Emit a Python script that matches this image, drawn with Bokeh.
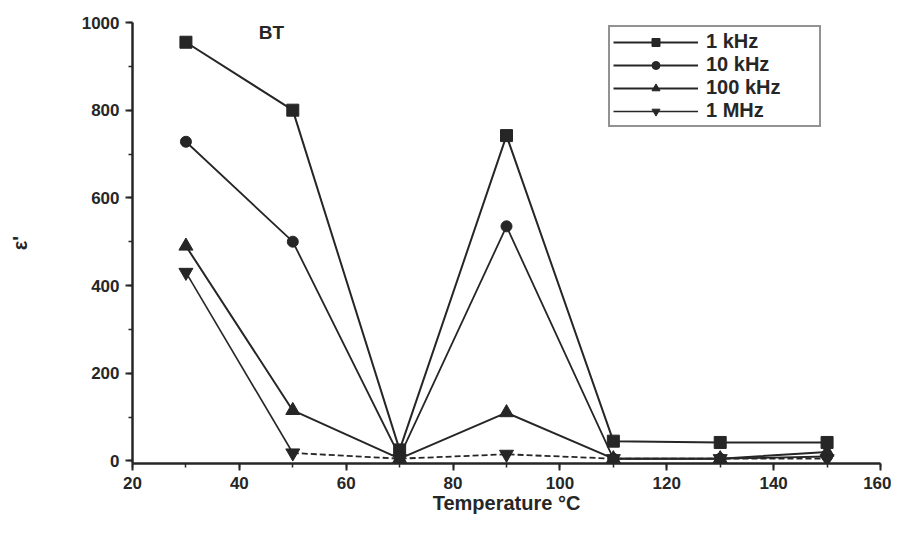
from bokeh.plotting import figure
from bokeh.models import Range1d, Legend, LegendItem, SingleIntervalTicker
from bokeh.core.properties import value
from bokeh.embed import file_html
from bokeh.resources import INLINE

temp = [30, 50, 70, 90, 110, 130, 150]
eps_1k = [955, 800, 25, 742, 45, 42, 42]
eps_10k = [728, 500, 10, 535, 5, 5, 10]
eps_100k = [490, 115, 5, 110, 5, 5, 20]
eps_1M = [430, 18, 5, 15, 5, 5, 5]
labels = ["1 kHz", "10 kHz", "100 kHz", "1 MHz"]

C = "#262626"
FONT = "Liberation Sans"

p = figure(width=891, height=519, output_backend="svg", toolbar_location=None,
           x_range=Range1d(20, 160), y_range=Range1d(-6, 1000),
           min_border_left=132, min_border_right=11, min_border_top=22, min_border_bottom=56)
p.outline_line_color = None
p.grid.visible = False
p.background_fill_color = "white"

for ax in (p.xaxis[0], p.yaxis[0]):
    ax.axis_line_width = 2.5
    ax.axis_line_color = C
    ax.major_tick_line_color = C
    ax.minor_tick_line_color = C
    ax.major_tick_line_width = 2
    ax.minor_tick_line_width = 1.5
    ax.major_tick_out = 7
    ax.major_tick_in = 0
    ax.minor_tick_out = 4
    ax.minor_tick_in = 0
    ax.major_label_text_font = FONT
    ax.major_label_text_font_style = "bold"
    ax.major_label_text_font_size = "17px"
    ax.major_label_text_color = C
    ax.axis_label_text_font = FONT
    ax.axis_label_text_font_style = "bold"
    ax.axis_label_text_color = C

p.xaxis.ticker = SingleIntervalTicker(interval=20, num_minor_ticks=2)
p.yaxis.ticker = SingleIntervalTicker(interval=200, num_minor_ticks=2)
p.xaxis.major_label_standoff = 6
p.yaxis.major_label_standoff = 6
p.xaxis.axis_label = "Temperature °C"
p.xaxis.axis_label_text_font_size = "20px"
p.xaxis.axis_label_standoff = 0
p.yaxis.axis_label = "ε'"
p.yaxis.axis_label_text_font_size = "20px"
p.yaxis.axis_label_standoff = 48

items = []
l1 = p.line(temp, eps_1k, line_color=C, line_width=2)
m1 = p.scatter(temp, eps_1k, marker="square", size=12, fill_color=C, line_color=C)
items.append(LegendItem(label=labels[0], renderers=[l1, m1]))

l2 = p.line(temp, eps_10k, line_color=C, line_width=1.8)
m2 = p.scatter(temp, eps_10k, marker="circle", size=11, fill_color=C, line_color=C)
items.append(LegendItem(label=labels[1], renderers=[l2, m2]))

l3 = p.line(temp, eps_100k, line_color=C, line_width=2)
m3 = p.scatter(temp, eps_100k, marker="triangle", size=14, fill_color=C, line_color=C)
items.append(LegendItem(label=labels[2], renderers=[l3, m3]))

l4 = p.line(temp[:2], eps_1M[:2], line_color=C, line_width=1.6)
p.line(temp[1:], eps_1M[1:], line_color=C, line_width=1.8, line_dash="6 3")
m4 = p.scatter(temp, eps_1M, marker="inverted_triangle", size=14, fill_color=C, line_color=C)
items.append(LegendItem(label=labels[3], renderers=[l4, m4]))

p.text(x=[46], y=[978], text=["BT"], text_font=value(FONT), text_font_style="bold",
       text_font_size="19px", text_color=C, text_align="center", text_baseline="middle")

legend = Legend(items=items, location=(476, 336), glyph_width=85, glyph_height=20,
                label_text_font=FONT, label_text_font_style="bold", label_text_font_size="20px",
                label_text_color=C, border_line_color=C, border_line_width=2,
                label_width=110, spacing=0, padding=3, margin=0, label_standoff=8,
                background_fill_alpha=1)
p.add_layout(legend, "center")

open("out.html", "w").write(file_html(p, INLINE))
